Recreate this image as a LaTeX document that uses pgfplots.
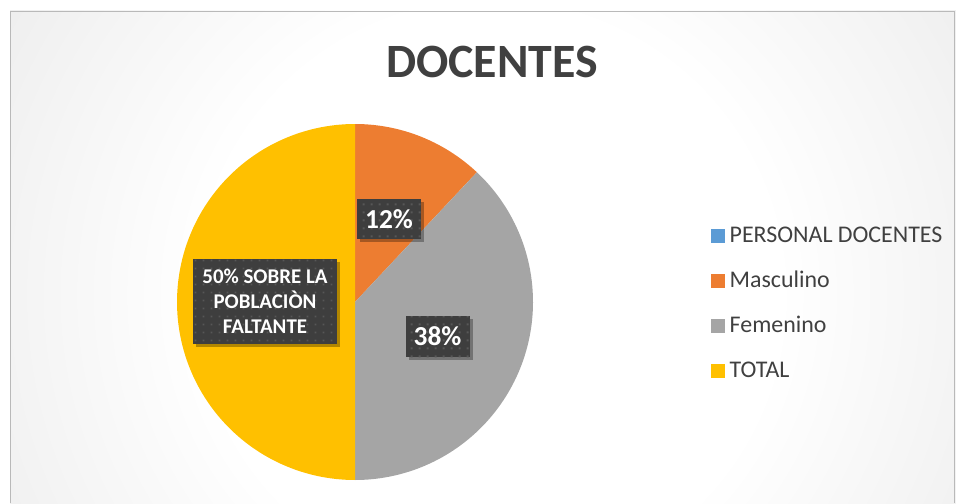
\documentclass[border=0pt]{standalone}
\usepackage{pgfplots}
\pgfplotsset{compat=1.18}
\usepackage{pgfplotstable}
\usepackage{fontspec}
\setmainfont{Carlito}
\usetikzlibrary{shadows,patterns.meta}
\definecolor{cOrange}{HTML}{ED7D31}
\definecolor{cGray}{HTML}{A5A5A5}
\definecolor{cYellow}{HTML}{FFC000}
\definecolor{cBlue}{HTML}{5B9BD5}
\definecolor{cText}{HTML}{404040}
\definecolor{cBox}{HTML}{3E3E3E}
\definecolor{cDot}{HTML}{575757}
\definecolor{bgEdge}{HTML}{C2C2C2}
\definecolor{bgMid}{HTML}{E8E8E8}
\pgfdeclareradialshading{bgshade}{\pgfpoint{0bp}{0bp}}{color(0bp)=(white); color(12bp)=(white); color(28bp)=(bgMid); color(45bp)=(bgEdge); color(50bp)=(bgEdge)}
\pgfdeclarepattern{name=bigdots, type=uncolored, bottom left={\pgfpointorigin},
  top right={\pgfpoint{8bp}{8bp}}, tile size={\pgfpoint{8bp}{8bp}},
  code={\pgfpathrectangle{\pgfpoint{3bp}{3bp}}{\pgfpoint{2bp}{2bp}}\pgfusepath{fill}}}
\tikzset{lab/.style={fill=cBox, text=white, inner sep=0pt, align=center,
    drop shadow={shadow xshift=3bp, shadow yshift=-3bp, fill=black, opacity=0.3},
    postaction={pattern=bigdots, pattern color=cDot}}}

\pgfplotstableread{
label value
Masculino 12
Femenino 38
TOTAL 50
}\pietable

\begin{document}
\begin{tikzpicture}
\pgfplotstablegetelem{0}{value}\of\pietable \let\vA\pgfplotsretval
\pgfplotstablegetelem{1}{value}\of\pietable \let\vB\pgfplotsretval
\pgfplotstablegetelem{2}{value}\of\pietable \let\vC\pgfplotsretval
\pgfmathsetmacro{\aA}{90-3.6*\vA}
\pgfmathsetmacro{\aB}{\aA-3.6*\vB}
\pgfmathsetmacro{\aC}{\aB-3.6*\vC}
\begin{axis}[
  at={(0,0)}, anchor=south west,
  scale only axis, width=956bp, height=503bp,
  xmin=0, xmax=956, ymin=0, ymax=503, y dir=reverse,
  hide axis, clip=false,
  legend cell align=left,
  legend image code/.code={\fill[#1] (0bp,-5.5bp) rectangle (14bp,8.5bp);},
  legend style={at={(axis cs:711,304.5)}, anchor=west, draw=none, fill=none,
    inner sep=0pt, font=\fontsize{24}{28}\selectfont, text=cText,
    row sep=24bp, nodes={inner sep=0pt, text height=16bp, text depth=5bp},
    /tikz/every odd column/.style={column sep=4.5bp}},
]
\fill[white] (axis cs:0,0) rectangle (axis cs:956,503);
\begin{scope}
\clip (axis cs:10,11) rectangle (axis cs:956,503);
\shade[shading=bgshade] (axis cs:490,295) circle (600bp);
\end{scope}
\draw[color=gray!55, line width=0.8bp] (axis cs:10,503) -- (axis cs:10,11) -- (axis cs:954,11) -- (axis cs:954,503);

\node[anchor=base, text=cText, font=\bfseries\fontsize{48}{56}\selectfont] at (axis cs:492,78) {DOCENTES};

\addlegendimage{fill=cBlue, draw=none}
\addlegendentry{PERSONAL DOCENTES}
\addplot[draw=none, fill=cOrange, domain=\aA:90, samples=60]
  ({355+178*cos(x)},{302-178*sin(x)}) -- (axis cs:355,302) -- cycle;
\addlegendentry{Masculino}
\addplot[draw=none, fill=cGray, domain=\aB:\aA, samples=100]
  ({355+178*cos(x)},{302-178*sin(x)}) -- (axis cs:355,302) -- cycle;
\addlegendentry{Femenino}
\addplot[draw=none, fill=cYellow, domain=\aC:\aB, samples=120]
  ({355+178*cos(x)},{302-178*sin(x)}) -- (axis cs:355,302) -- cycle;
\addlegendentry{TOTAL}

\node[lab, minimum width=64bp, minimum height=40bp, font=\bfseries\fontsize{27.5}{30}\selectfont] at (axis cs:389,219) {12\%};
\node[lab, minimum width=64bp, minimum height=41bp, font=\bfseries\fontsize{27.5}{30}\selectfont] at (axis cs:437.5,336.5) {38\%};
\node[lab, minimum width=144bp, minimum height=85bp, font=\bfseries\fontsize{21}{25}\selectfont] at (axis cs:265,301.5) {50\% SOBRE LA\\POBLACIÒN\\FALTANTE};
\end{axis}
\end{tikzpicture}
\end{document}
